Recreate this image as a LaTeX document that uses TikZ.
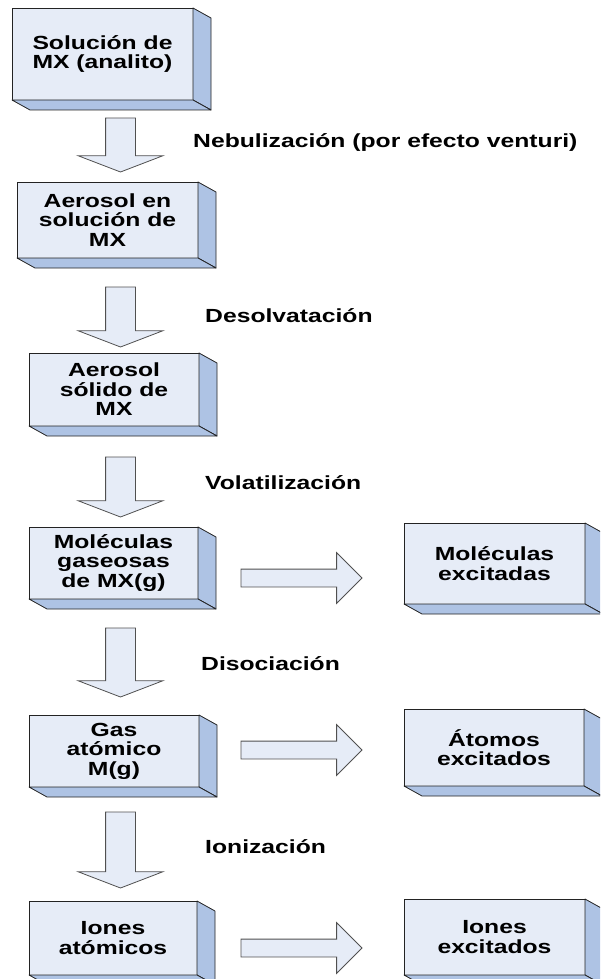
\documentclass[tikz,border=0pt]{standalone}
\usepackage{fontspec}
\newfontfamily\rotulo[FakeStretch=1.3]{Liberation Sans}
\usetikzlibrary{shapes.arrows,calc}

\definecolor{caraclara}{RGB}{230,236,247}
\definecolor{caraoscura}{RGB}{174,195,228}
\definecolor{borde}{RGB}{35,35,35}
\definecolor{bordeflecha}{RGB}{80,80,80}

\tikzset{
  caja/.style={rectangle, draw=borde, fill=caraclara, line width=0.8pt,
               inner sep=0pt, outer sep=0pt, align=center,
               font=\rotulo\bfseries\fontsize{19}{19.5}\selectfont},
  lado/.style={draw=borde, fill=caraoscura, line width=0.8pt, line join=round},
  flecha/.style={single arrow, draw=bordeflecha, fill=caraclara, line width=0.8pt,
                 inner sep=0pt, outer sep=0pt, anchor=tail},
  bajada/.style={flecha, rotate=-90, inner ysep=14.5pt,
                 single arrow head extend=27.5pt, single arrow tip angle=138},
  derecha/.style={flecha, inner ysep=8.5pt,
                  single arrow head extend=16.5pt, single arrow tip angle=90},
  paso/.style={anchor=west, inner sep=0pt,
               font=\rotulo\bfseries\fontsize{19}{19.5}\selectfont}
}

\begin{document}
\begin{tikzpicture}[x=1pt, y=-1pt]

\useasboundingbox (0,0) rectangle (600,979);
\clip (0,0) rectangle (600,979);

% cajas de la columna izquierda
\node[caja, minimum width=181pt, minimum height=92pt] (b1) at (102.5,54) {Solución de\\MX (analito)};
\node[caja, minimum width=181pt, minimum height=76pt] (b2) at (107.5,220) {Aerosol en\\solución de\\MX};
\node[caja, minimum width=170pt, minimum height=73pt] (b3) at (114,389.5) {Aerosol\\sólido de\\MX};
\node[caja, minimum width=169pt, minimum height=72pt] (b4) at (113.5,563) {Moléculas\\gaseosas\\de MX(g)};
\node[caja, minimum width=170pt, minimum height=72pt] (b5) at (114,751) {Gas\\atómico\\M(g)};
\node[caja, minimum width=168pt, minimum height=74pt] (b6) at (113,938) {Iones\\atómicos};

% cajas de la columna derecha
\node[caja, minimum width=181pt, minimum height=81pt] (m1) at (494.5,563.5) {Moléculas\\excitadas};
\node[caja, minimum width=180pt, minimum height=77pt] (m2) at (494,747.5) {Átomos\\excitados};
\node[caja, minimum width=181pt, minimum height=76pt] (m3) at (494.5,937) {Iones\\excitados};

% caras laterales
\foreach \c in {b1,b2,b3,b4,b5,b6,m1,m2,m3}{
  \filldraw[lado] (\c.north east) -- ++(18,10) -- ($(\c.south east)+(18,10)$) -- (\c.south east) -- cycle;
  \filldraw[lado] (\c.south west) -- ++(18,10) -- ($(\c.south east)+(18,10)$) -- (\c.south east) -- cycle;
}

% flechas hacia abajo
\node[bajada, minimum height=54pt] (f1) at (120.5,118) {};
\node[bajada, minimum height=60pt] (f2) at (120.5,287) {};
\node[bajada, minimum height=60pt] (f3) at (120.5,457) {};
\node[bajada, minimum height=69pt] (f4) at (120.5,628) {};
\node[bajada, minimum height=76pt] (f5) at (120.5,812) {};

% flechas hacia la derecha
\node[derecha, minimum height=121pt] (g1) at (241,578) {};
\node[derecha, minimum height=121pt] (g2) at (241,750) {};
\node[derecha, minimum height=121pt] (g3) at (241,948) {};

% etapas
\node[paso] (e1) at (193,143) {Nebulización (por efecto venturi)};
\node[paso] (e2) at (205,316) {Desolvatación};
\node[paso] (e3) at (205,483) {Volatilización};
\node[paso] (e4) at (201,664) {Disociación};
\node[paso] (e5) at (205,847) {Ionización};

\end{tikzpicture}
\end{document}
